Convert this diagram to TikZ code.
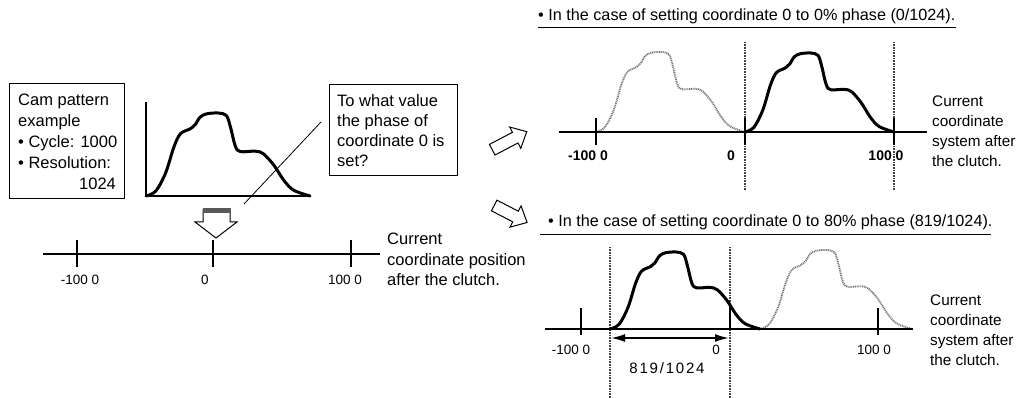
\documentclass[tikz,border=0pt]{standalone}
\usepackage{fontspec}
\setmainfont{Liberation Sans}
\usetikzlibrary{arrows.meta}
\newcommand{\fsz}[2]{\fontsize{#1}{#2}\selectfont}
\newcommand{\camshape}{plot[smooth, tension=0.55] coordinates {(0,0) (0.06,0.06) (0.12,0.28) (0.17,0.59) (0.21,0.75) (0.27,0.81) (0.30,0.86) (0.33,0.95) (0.37,0.99) (0.44,1.0) (0.49,0.97) (0.515,0.83) (0.545,0.60) (0.575,0.535) (0.665,0.54) (0.715,0.51) (0.78,0.37) (0.84,0.19) (0.90,0.07) (1,0)}}
\begin{document}
\begin{tikzpicture}[x=1pt,y=-1pt,
  txt/.style={inner sep=0pt, align=left, font=\fsz{16.5}{21}},
  qtxt/.style={inner sep=0pt, align=left, font=\fsz{16.5}{20.2}},
  side/.style={inner sep=0pt, align=left, font=\fsz{15.3}{20}},
  num/.style={inner sep=0pt, font=\fsz{13.5}{16}},
  bnum/.style={inner sep=0pt, font=\fsz{14}{16}\bfseries},
  axisline/.style={line width=2.4pt},
  tickline/.style={line width=2pt},
  camcurve/.style={line width=3pt, line join=round, line cap=round},
  ghost/.style={line width=1.8pt, black!55, dash pattern=on 1pt off 0.8pt},
  guide/.style={line width=1.5pt, black!75, dash pattern=on 0.8pt off 0.8pt},
  boxline/.style={line width=1.1pt},
  hollow/.style={line width=1pt, fill=white, line join=miter},
  uline/.style={line width=0.9pt},
]
\useasboundingbox (0,0) rectangle (1018,398);
\fill[white] (0,0) rectangle (1018,398);

% ---------- left: cam pattern box ----------
\node[draw, boxline, inner sep=0pt, minimum width=115, minimum height=115, anchor=north west] (cambox) at (9,83) {};
\node[txt, anchor=base west] (camtext) at (18,190) {Cam pattern\\example\\• Cycle: 1000\\• Resolution:\\\hspace*{61pt}1024};

% ---------- left: cam graph ----------
\coordinate (gtop) at (146,102);
\coordinate (gorig) at (146,196);
\coordinate (gend) at (311,196);
\draw[axisline, line join=miter] (gtop) -- (gorig) -- (gend);
\begin{scope}[shift={(146,196)}, xscale=164, yscale=-83]
  \draw[camcurve] \camshape;
\end{scope}

% ---------- question box ----------
\node[draw, boxline, inner sep=0pt, minimum width=128, minimum height=91, anchor=north west] (qbox) at (329,84) {};
\node[qtxt, anchor=base west] (qtext) at (337,166.7) {To what value\\the phase of\\coordinate 0 is\\set?};
\coordinate (lnA) at (244,204);
\coordinate (lnB) at (321,122);
\draw[line width=0.8pt] (lnA) -- (lnB);

% ---------- hollow down arrow ----------
\draw[hollow] (203,210) -- (230,210) -- (230,222) -- (237,222) -- (216,238) -- (195,222) -- (203,222) -- cycle;
\fill[black!65] (202.5,208.5) rectangle (230.5,213);

% ---------- bottom-left axis ----------
\coordinate (la) at (43,254);
\coordinate (lb) at (380,254);
\draw[axisline] (la) -- (lb);
\coordinate (lt1) at (77,254);
\coordinate (lt2) at (213,254);
\coordinate (lt3) at (351,254);
\foreach \t in {lt1,lt2,lt3} \draw[tickline] ([yshift=13.5pt]\t) -- ([yshift=-13.5pt]\t);
\node[num, anchor=base] (ln1) at (80,284) {-100 0};
\node[num, anchor=base] (ln2) at (205,284) {0};
\node[num, anchor=base] (ln3) at (345,284) {100 0};
\node[txt, anchor=base west, font=\fsz{16.5}{20.5}] (llabel) at (387,286) {Current\\coordinate position\\after the clutch.};

% ---------- hollow diagonal arrows ----------
\begin{scope}[shift={(492.2,149.7)}, rotate=27.6]
  \draw[hollow] (0,-6) -- (26,-6) -- (26,-12) -- (39,0) -- (26,12) -- (26,6) -- (0,6) -- cycle;
\end{scope}
\begin{scope}[shift={(494.2,205.5)}, rotate=-27.3]
  \draw[hollow] (0,-6) -- (24,-6) -- (24,-12) -- (37,0) -- (24,12) -- (24,6) -- (0,6) -- cycle;
\end{scope}

% ---------- top-right case ----------
\node[txt, anchor=base west, font=\fsz{16.2}{20}] (h1) at (538,21) {• In the case of setting coordinate 0 to 0\% phase (0/1024).};
\draw[uline] ([yshift=-6pt]h1.base west) -- ([yshift=-6pt]h1.base east);
\coordinate (ta) at (559,132);
\coordinate (tb) at (927,132);
\coordinate (tt1) at (596,132);
\coordinate (tt2) at (745,132);
\coordinate (tt3) at (894,132);
\draw[guide] (745,42) -- (745,190);
\draw[guide] (894,42) -- (894,190);
\begin{scope}[shift={(596,132)}, xscale=149, yscale=-80]
  \draw[ghost] \camshape;
\end{scope}
\draw[axisline] (ta) -- (tb);
\foreach \t in {tt1,tt2,tt3} \draw[tickline] ([yshift=14pt]\t) -- ([yshift=-13pt]\t);
\begin{scope}[shift={(745,132)}, xscale=149, yscale=-79]
  \draw[camcurve] \camshape;
\end{scope}
\node[bnum, anchor=base] (tn1) at (588,161) {-100 0};
\node[bnum, anchor=base] (tn2) at (731,161) {0};
\node[bnum, anchor=base] (tn3) at (886,161) {100 0};
\node[side, anchor=base west] (tlabel) at (932,167) {Current\\coordinate\\system after\\the clutch.};

% ---------- bottom-right case ----------
\node[txt, anchor=base west, font=\fsz{16.2}{20}] (h2) at (548,227) {• In the case of setting coordinate 0 to 80\% phase (819/1024).};
\draw[uline] ([shift={(-8,7)}]h2.base west) -- ([shift={(-2,7)}]h2.base east);
\coordinate (ba) at (545,329);
\coordinate (bb) at (913,329);
\coordinate (bt1) at (581,329);
\coordinate (bt2) at (730,329);
\coordinate (bt3) at (878,329);
\draw[guide] (610,247) -- (610,398);
\draw[guide] (730,247) -- (730,398);
\begin{scope}[shift={(760,329)}, xscale=152, yscale=-79]
  \draw[ghost] \camshape;
\end{scope}
\draw[axisline] (ba) -- (bb);
\draw[tickline] ([yshift=-6pt]bt1) -- ([yshift=21pt]bt1);
\draw[tickline] ([yshift=-6pt]bt3) -- ([yshift=21pt]bt3);
\draw[tickline] (bt2) -- ([yshift=22pt]bt2);
\begin{scope}[shift={(610,329)}, xscale=150, yscale=-77]
  \draw[camcurve] \camshape;
\end{scope}
\coordinate (d1) at (611,338);
\coordinate (d2) at (729,338);
\draw[line width=1.8pt, {Latex[length=14pt,width=8pt]}-{Latex[length=14pt,width=8pt]}] (d1) -- (d2);
\node[num, anchor=base] (bn1) at (571,354) {-100 0};
\node[num, anchor=base] (bn2) at (716,354) {0};
\node[num, anchor=base] (bn3) at (874,354) {100 0};
\node[inner sep=0pt, anchor=base, font=\fsz{15}{18}\addfontfeature{LetterSpace=12}] (frac) at (667,373) {819/1024};
\node[side, anchor=base west] (blabel) at (930,365) {Current\\coordinate\\system after\\the clutch.};
\end{tikzpicture}
\end{document}
